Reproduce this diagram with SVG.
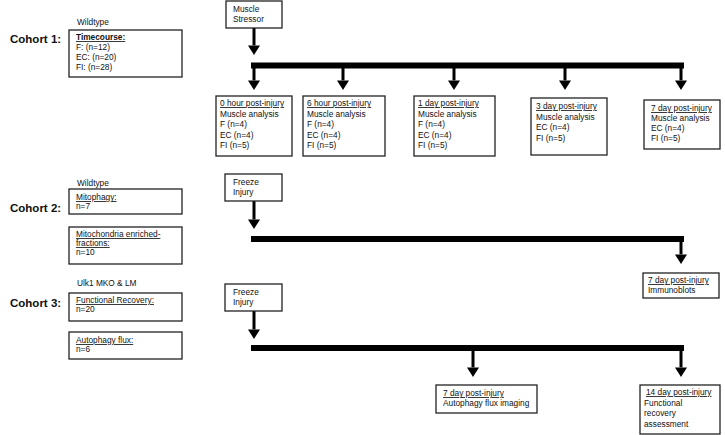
<svg xmlns="http://www.w3.org/2000/svg" width="725" height="435" viewBox="0 0 725 435">
<style>
text{font-family:"Liberation Sans",Arial,sans-serif;fill:#111;font-size:8.3px}
.h{font-size:11.5px;font-weight:bold}
.u{text-decoration:underline}
.b{font-weight:bold}
rect{fill:#fff;stroke:#222;stroke-width:1.3}
.bar{stroke:#000;stroke-width:6;fill:none}
.arr{stroke:#000;stroke-width:3;fill:none;marker-end:url(#ah)}
</style>
<defs>
<marker id="ah" viewBox="0 0 8 10" refX="0" refY="5" markerWidth="3.2" markerHeight="4" orient="auto" markerUnits="strokeWidth"><path d="M0,0 L8,5 L0,10 z" fill="#000"/></marker>
</defs>
<rect x="0" y="0" width="725" height="435" style="fill:#fff;stroke:none"/>

<g id="labels">
<text class="h" x="10" y="43">Cohort 1:</text>
<text class="h" x="10" y="212">Cohort 2:</text>
<text class="h" x="10" y="307">Cohort 3:</text>
<text x="77" y="25">Wildtype</text>
<text x="77" y="186">Wildtype</text>
<text x="77" y="286">Ulk1 MKO &amp; LM</text>
</g>

<g id="connectors">
<line class="arr" x1="254" y1="28" x2="254" y2="45.4"/>
<path class="bar" d="M251,65.5 H684"/>
<line class="arr" x1="254" y1="65" x2="254" y2="80.4"/>
<line class="arr" x1="343" y1="65" x2="343" y2="80.4"/>
<line class="arr" x1="454" y1="65" x2="454" y2="80.4"/>
<line class="arr" x1="565" y1="65" x2="565" y2="80.4"/>
<line class="arr" x1="681" y1="65" x2="681" y2="80.4"/>

<line class="arr" x1="254" y1="201" x2="254" y2="219.4"/>
<path class="bar" d="M251,239 H684"/>
<line class="arr" x1="681" y1="239" x2="681" y2="254.4"/>

<line class="arr" x1="254" y1="311" x2="254" y2="329.4"/>
<path class="bar" d="M251,348 H684"/>
<line class="arr" x1="473" y1="348" x2="473" y2="367.4"/>
<line class="arr" x1="681" y1="348" x2="681" y2="367.4"/>
</g>

<g id="timecourse">
<rect x="69" y="30" width="113" height="47"/>
<text x="76" y="40" class="u b">Timecourse:</text>
<text x="76" y="50">F: (n=12)</text>
<text x="76" y="60">EC: (n=20)</text>
<text x="76" y="70">FI: (n=28)</text>
</g>

<g id="muscle-stressor">
<rect x="226" y="1" width="56" height="27"/>
<text x="233" y="12">Muscle</text>
<text x="233" y="22">Stressor</text>
</g>

<g id="c1-0h">
<rect x="216" y="96" width="76" height="60"/>
<text x="220" y="106" class="u">0 hour post-injury</text>
<text x="220" y="116.5">Muscle analysis</text>
<text x="220" y="127">F (n=4)</text>
<text x="220" y="137.5">EC (n=4)</text>
<text x="220" y="148">FI (n=5)</text>
</g>

<g id="c1-6h">
<rect x="303" y="96" width="82" height="60"/>
<text x="307" y="106" class="u">6 hour post-injury</text>
<text x="307" y="116.5">Muscle analysis</text>
<text x="307" y="127">F (n=4)</text>
<text x="307" y="137.5">EC (n=4)</text>
<text x="307" y="148">FI (n=5)</text>
</g>

<g id="c1-1d">
<rect x="414" y="96" width="81" height="60"/>
<text x="418" y="106" class="u">1 day post-injury</text>
<text x="418" y="116.5">Muscle analysis</text>
<text x="418" y="127">F (n=4)</text>
<text x="418" y="137.5">EC (n=4)</text>
<text x="418" y="148">FI (n=5)</text>
</g>

<g id="c1-3d">
<rect x="531" y="98" width="76" height="57"/>
<text x="536" y="109" class="u">3 day post-injury</text>
<text x="536" y="119.5">Muscle analysis</text>
<text x="536" y="130">EC (n=4)</text>
<text x="536" y="140.5">FI (n=5)</text>
</g>

<g id="c1-7d">
<rect x="644" y="100" width="76" height="49"/>
<text x="651" y="111" class="u">7 day post-injury</text>
<text x="651" y="121">Muscle analysis</text>
<text x="651" y="131">EC (n=4)</text>
<text x="651" y="141">FI (n=5)</text>
</g>

<g id="mitophagy">
<rect x="69" y="189" width="113" height="25"/>
<text x="76" y="200" class="u">Mitophagy:</text>
<text x="76" y="209">n=7</text>
</g>

<g id="mito-fractions">
<rect x="69" y="227" width="113" height="37"/>
<text x="76" y="237" class="u">Mitochondria enriched-</text>
<text x="76" y="246" class="u">fractions:</text>
<text x="76" y="255">n=10</text>
</g>

<g id="c2-freeze">
<rect x="225" y="174" width="57" height="27"/>
<text x="233" y="185">Freeze</text>
<text x="233" y="195">Injury</text>
</g>

<g id="c2-7d">
<rect x="643" y="273" width="76" height="25"/>
<text x="648" y="283" class="u">7 day post-injury</text>
<text x="648" y="293">Immunoblots</text>
</g>

<g id="functional-recovery">
<rect x="69" y="293" width="113" height="28"/>
<text x="76" y="303" class="u">Functional Recovery:</text>
<text x="76" y="312">n=20</text>
</g>

<g id="autophagy-flux">
<rect x="69" y="332" width="113" height="27"/>
<text x="76" y="343" class="u">Autophagy flux:</text>
<text x="76" y="352">n=6</text>
</g>

<g id="c3-freeze">
<rect x="225" y="284" width="57" height="27"/>
<text x="233" y="295">Freeze</text>
<text x="233" y="305">Injury</text>
</g>

<g id="c3-7d">
<rect x="436" y="385" width="101" height="28"/>
<text x="443" y="396" class="u">7 day post-injury</text>
<text x="443" y="406">Autophagy flux imaging</text>
</g>

<g id="c3-14d">
<rect x="640" y="385" width="80" height="49"/>
<text x="646" y="395" class="u">14 day post-injury</text>
<text x="644" y="405.5">Functional</text>
<text x="644" y="416">recovery</text>
<text x="644" y="426.5">assessment</text>
</g>
</svg>
